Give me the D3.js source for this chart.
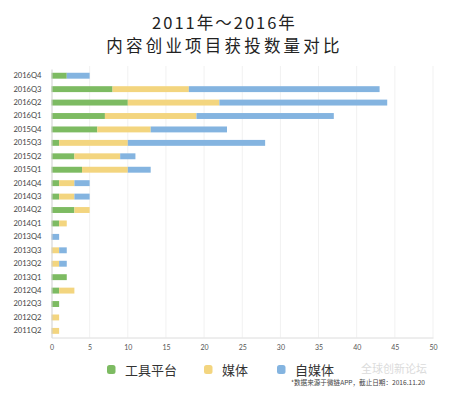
<!DOCTYPE html>
<html><head><meta charset="utf-8">
<script src="https://cdn.jsdelivr.net/npm/d3@7"></script>
<style>body{margin:0;background:#fff;}svg{display:block;font-family:"Noto Sans CJK SC","Noto Sans",sans-serif;}</style>
</head><body>
<svg id="c" width="449" height="400"></svg>
<script>
const categories = ["2016Q4","2016Q3","2016Q2","2016Q1","2015Q4","2015Q3","2015Q2","2015Q1","2014Q4","2014Q3","2014Q2","2014Q1","2013Q4","2013Q3","2013Q2","2013Q1","2012Q4","2012Q3","2012Q2","2011Q2"];
const tools  = [2,8,10,7,6,1,3,4,1,1,3,1,0,0,0,2,1,1,0,0];
const media  = [0,10,12,12,7,9,6,6,2,2,2,1,0,1,1,0,2,0,1,1];
const selfMedia = [3,25,22,18,10,18,2,3,2,2,0,0,1,1,1,0,0,0,0,0];
const seriesNames = ["工具平台","媒体","自媒体"];
const colors = ["#7dbb62","#f3d57f","#84b4e0"];
const xTicks = [0,5,10,15,20,25,30,35,40,45,50];
const titleLines = ["2011年～2016年","内容创业项目获投数量对比"];
const note = "*数据来源于微链APP，截止日期：2016.11.20";

const svg = d3.select("#c");
const x = d3.scaleLinear().domain([0,50]).range([51.5,433]);
const y = d3.scaleBand().domain(categories).range([69,337.6]).paddingInner(0.56).paddingOuter(0.28);

// title
svg.selectAll("text.title").data(titleLines).enter().append("text")
  .attr("x",224.5).attr("y",(d,i)=>29+i*23).attr("text-anchor","middle")
  .attr("font-size",16.5).attr("letter-spacing",(d,i)=>i===0?2:3.2).attr("fill","#222").text(d=>d);

// grid
svg.append("g").selectAll("line").data(xTicks.slice(1)).enter().append("line")
  .attr("x1",d=>x(d)).attr("x2",d=>x(d)).attr("y1",66).attr("y2",337.5)
  .attr("stroke","#f1f1f1").attr("stroke-width",1);

// stacks
const rows = categories.map((c,i)=>({cat:c,"工具平台":tools[i],"媒体":media[i],"自媒体":selfMedia[i]}));
const stacked = d3.stack().keys(seriesNames)(rows);
svg.append("g").selectAll("g").data(stacked).enter().append("g").attr("fill",(d,i)=>colors[i])
  .selectAll("rect").data(d=>d).enter().append("rect")
  .attr("x",d=>x(d[0])).attr("width",d=>x(d[1])-x(d[0]))
  .attr("y",d=>y(d.data.cat)).attr("height",y.bandwidth());

// y axis
const ya = svg.append("g").attr("transform","translate(51.5,0)").call(d3.axisLeft(y).tickSize(0).tickPadding(10));
ya.select(".domain").attr("stroke","#cfcfcf");
ya.selectAll("text").attr("font-size",7.6).attr("fill","#444").attr("font-family","Lato,'Noto Sans',sans-serif");

// x axis
const xa = svg.append("g").attr("transform","translate(0,337.5)").call(d3.axisBottom(x).tickValues(xTicks).tickSize(0).tickPadding(8));
xa.select(".domain").attr("stroke","#dcdcdc");
xa.selectAll("text").attr("font-size",7).attr("fill","#555").attr("font-family","Lato,'Noto Sans',sans-serif");

// legend
const legX = [107,204,277];
const leg = svg.append("g").selectAll("g").data(seriesNames).enter().append("g")
  .attr("transform",(d,i)=>`translate(${legX[i]},365)`);
leg.append("rect").attr("width",8.5).attr("height",9).attr("rx",2.5).attr("fill",(d,i)=>colors[i]);
leg.append("text").attr("x",18).attr("y",9.5).attr("font-size",13).attr("fill","#333").text(d=>d);

// note
svg.append("text").attr("x",425).attr("y",385).attr("text-anchor","end")
  .attr("font-size",6.6).attr("fill","#444").text(note);
// watermark
svg.append("text").attr("x",427).attr("y",373).attr("text-anchor","end")
  .attr("font-size",11).attr("fill","#999").attr("opacity",0.35).text("全球创新论坛");
</script>
</body></html>
